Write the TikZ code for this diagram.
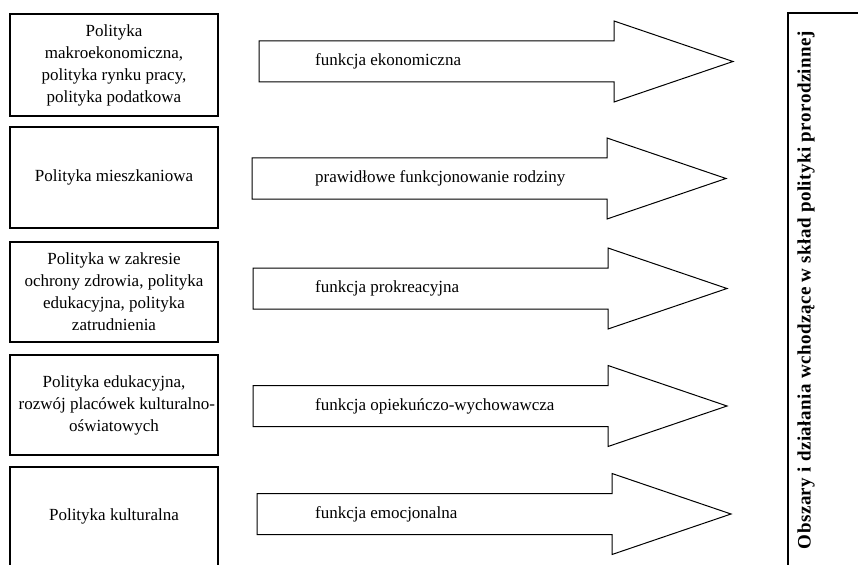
\documentclass[tikz,border=0pt]{standalone}
\usepackage{fontspec}
\setmainfont{Liberation Serif}
\usetikzlibrary{calc}

\tikzset{
  policybox/.style={draw, line width=2.2pt, minimum width=208pt, inner sep=2pt,
                    align=center, font=\fontsize{17}{22}\selectfont},
  funcarrow/.style={draw, line width=1pt, fill=white},
  funclabel/.style={anchor=west, inner sep=0pt, font=\fontsize{17}{21}\selectfont},
  areabox/.style={draw, line width=2pt}
}

\begin{document}
\begin{tikzpicture}[x=1pt, y=-1pt]
  \useasboundingbox (0,0) rectangle (858,564);
  \clip (0,0) rectangle (858,564);

  % left column: policy areas
  \node[policybox, minimum height=102pt] (makro) at (114,65)
    {Polityka\\makroekonomiczna,\\polityka rynku pracy,\\polityka podatkowa};
  \node[policybox, minimum height=101pt] (mieszk) at (114,177.5)
    {Polityka mieszkaniowa};
  \node[policybox, minimum height=100pt] (zdrow) at (114,292)
    {Polityka w zakresie\\ochrony zdrowia, polityka\\edukacyjna, polityka\\zatrudnienia};
  \node[policybox, minimum height=100pt] (eduk) at (114,405)
    {Polityka edukacyjna,\\rozwój placówek kulturalno\rlap{-}\\oświatowych};
  \node[policybox, minimum height=99pt] (kult) at (114,516.5)
    {Polityka kulturalna};

  % middle column: family functions
  \foreach \x/\y/\n/\txt in {259/61.5/ekon/funkcja ekonomiczna,
                             252/178.5/prawid/prawidłowe funkcjonowanie rodziny,
                             253/288.5/prokr/funkcja prokreacyjna,
                             253/406/opiek/funkcja opiekuńczo-wychowawcza,
                             257/514/emocj/funkcja emocjonalna} {
    \draw[funcarrow] (\x,\y-20.5) -- (\x+355,\y-20.5) -- (\x+355,\y-40.5)
      -- (\x+474,\y) -- (\x+355,\y+40.5) -- (\x+355,\y+20.5)
      -- (\x,\y+20.5) -- cycle;
    \node[funclabel] (\n) at (315,\y) {\txt};
  }

  % right column
  \draw[areabox] (788,13) rectangle (880,590);
  \node[rotate=90, font=\bfseries\fontsize{19}{21}\selectfont\addfontfeature{LetterSpace=2.5}]
    (obszary) at (806,290)
    {Obszary i działania wchodzące w skład polityki prorodzinnej};
\end{tikzpicture}
\end{document}
